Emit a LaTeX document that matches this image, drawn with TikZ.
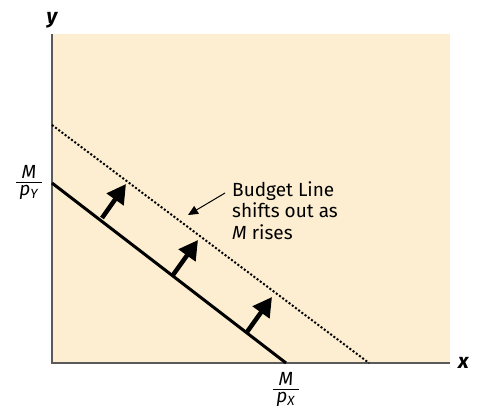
\documentclass[tikz,border=0pt]{standalone}
\usepackage{fontspec}
\setmainfont{Fira Sans}
\usepackage{tikz}
\usetikzlibrary{arrows.meta, positioning}

\definecolor{panelFill}{RGB}{253,238,209}
\definecolor{axisGray}{RGB}{90,90,90}

\newcommand{\budgetFrac}[1]{%
  \renewcommand{\arraystretch}{0.8}%
  \setlength{\arrayrulewidth}{1pt}%
  \begin{tabular}{@{\,}c@{\,}}
  \textit{M}\\[-2pt]
  \hline
  \textit{p}\textsubscript{\textit{#1}}
  \end{tabular}}

\begin{document}
\begin{tikzpicture}[
  x=1pt, y=1pt,
  font=\fontsize{19}{21.5}\selectfont,
  axis/.style={draw=axisGray, line width=1.2pt},
  axisLabel/.style={font=\fontsize{21}{22}\selectfont\bfseries\itshape, inner sep=1pt},
  budget/.style={draw=black, line width=3pt},
  budgetNew/.style={draw=black, line width=2pt, dash pattern=on 2pt off 2pt},
  shiftArrow/.style={draw=black, line width=4.5pt, -{Triangle[length=19pt, width=20pt]}},
  note/.style={draw=black, line width=1pt, -{Triangle[length=10pt, width=9pt]}},
  frac/.style={inner sep=0pt, font=\fontsize{19}{22}\selectfont}
]
\useasboundingbox (0,0) rectangle (478,412);

\fill[panelFill] (52,49) rectangle (450,378);

\coordinate (origin) at (52,49);
\coordinate (yTop) at (52,378);
\coordinate (xEnd) at (450,49);

\draw[axis] (yTop) -- (origin) -- (xEnd);
\node[axisLabel] (yLab) at (52,392) {y};
\node[axisLabel, right=7pt of xEnd] (xLab) {x};

\coordinate (oldY) at (52,229);
\coordinate (oldX) at (286,49);
\coordinate (newY) at (52,287);
\coordinate (newX) at (369,49);

\draw[budgetNew] (newY) -- (newX);
\draw[budget] (oldY) -- (oldX);

\coordinate (baseA) at (102,194);
\coordinate (tipA) at (126,228);
\coordinate (baseB) at (173,137);
\coordinate (tipB) at (198,172);
\coordinate (baseC) at (247,80);
\coordinate (tipC) at (272,115);
\draw[shiftArrow] (baseA) -- (tipA);
\draw[shiftArrow] (baseB) -- (tipB);
\draw[shiftArrow] (baseC) -- (tipC);

\node[anchor=north west, align=left, inner sep=0pt] (shiftText) at (232,231) {%
  Budget Line\\
  shifts out as\\
  \textit{M} rises};
\coordinate (noteTip) at (188,197);
\draw[note] (225,219) -- (noteTip);

\node[frac] (pyFrac) at (29,229) {\budgetFrac{Y}};
\node[frac] (pxFrac) at (286,22) {\budgetFrac{X}};
\end{tikzpicture}
\end{document}
